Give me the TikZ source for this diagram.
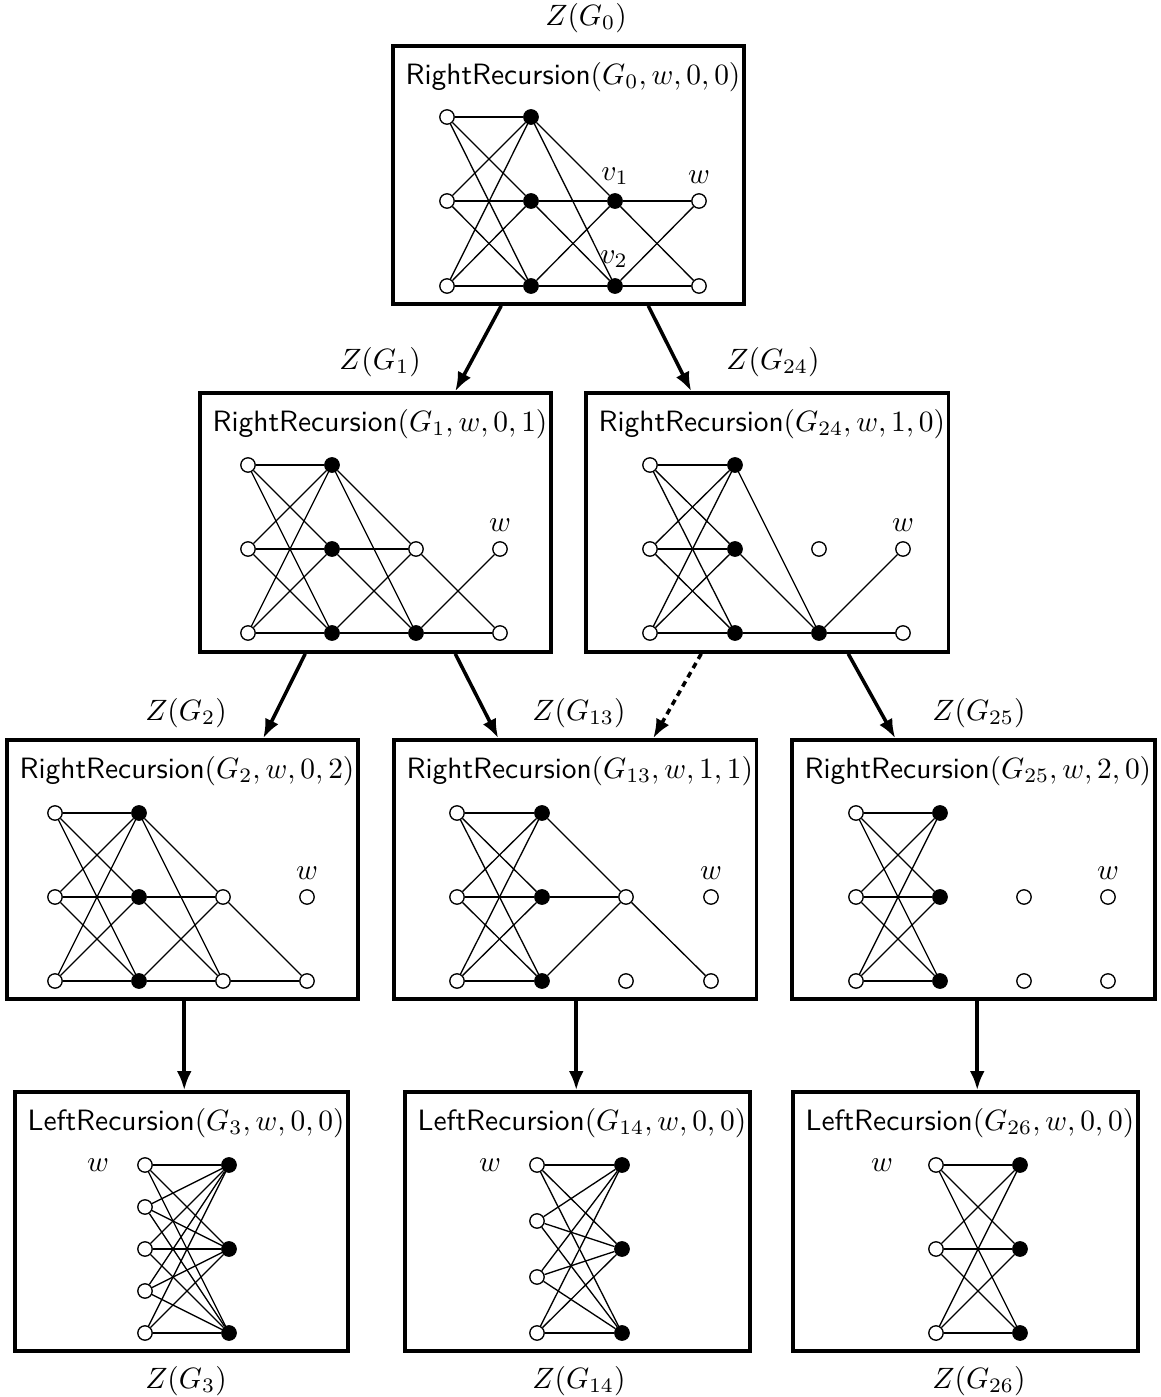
\documentclass[tikz,border=0pt]{standalone}
\usetikzlibrary{arrows.meta,calc,fit}
\begin{document}
\begin{tikzpicture}[x=0.34pt,y=-0.34pt,
  box/.style={draw, line width=1.2pt, inner sep=0pt},
  wv/.style={circle, draw, fill=white, line width=0.45pt, inner sep=0pt, minimum size=4.9pt},
  bv/.style={circle, draw, fill=black, line width=0.45pt, inner sep=0pt, minimum size=4.9pt},
  edge/.style={line width=0.45pt},
  arr/.style={line width=1.2pt, -{Latex[length=6.5pt,width=5pt]}},
  darr/.style={arr, dash pattern=on 2pt off 1.6pt},
  ttl/.style={anchor=base west, inner sep=0pt},
  lab/.style={inner sep=0pt}]
\useasboundingbox (0,0) rectangle (1161,1397);

% ---------- titles ----------
\node[ttl] (T0)  at (405,84)   {\textsf{RightRecursion}$(G_0,w,0,0)$};
\node[ttl] (T1)  at (212,431)  {\textsf{RightRecursion}$(G_1,w,0,1)$};
\node[ttl] (T24) at (598,431)  {\textsf{RightRecursion}$(G_{24},w,1,0)$};
\node[ttl] (T2)  at (19,778)   {\textsf{RightRecursion}$(G_2,w,0,2)$};
\node[ttl] (T13) at (406,778)  {\textsf{RightRecursion}$(G_{13},w,1,1)$};
\node[ttl] (T25) at (804,778)  {\textsf{RightRecursion}$(G_{25},w,2,0)$};
\node[ttl] (T3)  at (27,1130)  {\textsf{LeftRecursion}$(G_3,w,0,0)$};
\node[ttl] (T14) at (417,1130) {\textsf{LeftRecursion}$(G_{14},w,0,0)$};
\node[ttl] (T26) at (805,1130) {\textsf{LeftRecursion}$(G_{26},w,0,0)$};

% ---------- boxes ----------
\node[box, fit={($(T0.west |- 0,46)+(-12,0)$) ($(T0.east |- 0,304)+(3,0)$)}] (b0) {};
\node[box, fit={($(T1.west |- 0,393)+(-12,0)$) ($(T1.east |- 0,652)+(3,0)$)}] (b1) {};
\node[box, fit={($(T24.west |- 0,393)+(-12,0)$) ($(T24.east |- 0,652)+(3,0)$)}] (b24) {};
\node[box, fit={($(T2.west |- 0,740)+(-12,0)$) ($(T2.east |- 0,999)+(3,0)$)}] (b2) {};
\node[box, fit={($(T13.west |- 0,740)+(-12,0)$) ($(T13.east |- 0,999)+(3,0)$)}] (b13) {};
\node[box, fit={($(T25.west |- 0,740)+(-12,0)$) ($(T25.east |- 0,999)+(3,0)$)}] (b25) {};
\node[box, fit={($(T3.west |- 0,1092)+(-12,0)$) ($(T3.east |- 0,1351)+(3,0)$)}] (b3) {};
\node[box, fit={($(T14.west |- 0,1092)+(-12,0)$) ($(T14.east |- 0,1351)+(3,0)$)}] (b14) {};
\node[box, fit={($(T26.west |- 0,1092)+(-12,0)$) ($(T26.east |- 0,1351)+(3,0)$)}] (b26) {};

% ---------- Z labels ----------
\node[lab] (Z0)  at (586,18)   {$Z(G_0)$};
\node[lab] (Z1)  at (380,362)  {$Z(G_1)$};
\node[lab] (Z24) at (773,362)  {$Z(G_{24})$};
\node[lab] (Z2)  at (186,713)  {$Z(G_2)$};
\node[lab] (Z13) at (579,713)  {$Z(G_{13})$};
\node[lab] (Z25) at (979,713)  {$Z(G_{25})$};
\node[lab] (Z3)  at (186,1381) {$Z(G_3)$};
\node[lab] (Z14) at (579,1381) {$Z(G_{14})$};
\node[lab] (Z26) at (979,1381) {$Z(G_{26})$};

% ---------- G0 ----------
\foreach \r/\y in {1/117,2/201,3/286}{
  \node[wv] (A1\r) at (447,\y) {};
  \node[bv] (A2\r) at (531,\y) {};}
\node[bv] (A32) at (615,201) {};
\node[bv] (A33) at (615,286) {};
\node[wv] (A42) at (699,201) {};
\node[wv] (A43) at (699,286) {};
\foreach \i in {1,2,3}{\foreach \j in {1,2,3}{\draw[edge] (A1\i) -- (A2\j);}}
\foreach \i in {1,2,3}{\foreach \j in {2,3}{\draw[edge] (A2\i) -- (A3\j);}}
\foreach \i in {2,3}{\foreach \j in {2,3}{\draw[edge] (A3\i) -- (A4\j);}}
\node[lab] (Av1) at (615,176) {$v_1$};
\node[lab] (Aw)  at (699,177) {$w$};
\node[lab] (Av2) at (614,259) {$v_2$};

% ---------- G1 ----------
\foreach \r/\y in {1/465,2/549,3/633}{
  \node[wv] (B1\r) at (248,\y) {};
  \node[bv] (B2\r) at (332,\y) {};}
\node[wv] (B32) at (416,549) {};
\node[bv] (B33) at (416,633) {};
\node[wv] (B42) at (500,549) {};
\node[wv] (B43) at (500,633) {};
\foreach \i in {1,2,3}{\foreach \j in {1,2,3}{\draw[edge] (B1\i) -- (B2\j);}}
\foreach \i in {1,2,3}{\foreach \j in {2,3}{\draw[edge] (B2\i) -- (B3\j);}}
\draw[edge] (B32) -- (B43);
\draw[edge] (B33) -- (B42);
\draw[edge] (B33) -- (B43);
\node[lab] (Bw) at (500,525) {$w$};

% ---------- G24 ----------
\foreach \r/\y in {1/465,2/549,3/633}{
  \node[wv] (C1\r) at (650,\y) {};
  \node[bv] (C2\r) at (735,\y) {};}
\node[wv] (C32) at (819,549) {};
\node[bv] (C33) at (819,633) {};
\node[wv] (C42) at (903,549) {};
\node[wv] (C43) at (903,633) {};
\foreach \i in {1,2,3}{\foreach \j in {1,2,3}{\draw[edge] (C1\i) -- (C2\j);}}
\foreach \i in {1,2,3}{\draw[edge] (C2\i) -- (C33);}
\draw[edge] (C33) -- (C42);
\draw[edge] (C33) -- (C43);
\node[lab] (Cw) at (903,525) {$w$};

% ---------- G2 ----------
\foreach \r/\y in {1/813,2/897,3/981}{
  \node[wv] (D1\r) at (55,\y) {};
  \node[bv] (D2\r) at (139,\y) {};}
\node[wv] (D32) at (223,897) {};
\node[wv] (D33) at (223,981) {};
\node[wv] (D42) at (307,897) {};
\node[wv] (D43) at (307,981) {};
\foreach \i in {1,2,3}{\foreach \j in {1,2,3}{\draw[edge] (D1\i) -- (D2\j);}}
\foreach \i in {1,2,3}{\foreach \j in {2,3}{\draw[edge] (D2\i) -- (D3\j);}}
\draw[edge] (D32) -- (D43);
\draw[edge] (D33) -- (D43);
\node[lab] (Dw) at (307,873) {$w$};

% ---------- G13 ----------
\foreach \r/\y in {1/813,2/897,3/981}{
  \node[wv] (E1\r) at (457,\y) {};
  \node[bv] (E2\r) at (542,\y) {};}
\node[wv] (E32) at (626,897) {};
\node[wv] (E33) at (626,981) {};
\node[wv] (E42) at (711,897) {};
\node[wv] (E43) at (711,981) {};
\foreach \i in {1,2,3}{\foreach \j in {1,2,3}{\draw[edge] (E1\i) -- (E2\j);}}
\foreach \i in {1,2,3}{\draw[edge] (E2\i) -- (E32);}
\draw[edge] (E32) -- (E43);
\node[lab] (Ew) at (711,873) {$w$};

% ---------- G25 ----------
\foreach \r/\y in {1/813,2/897,3/981}{
  \node[wv] (F1\r) at (856,\y) {};
  \node[bv] (F2\r) at (940,\y) {};}
\node[wv] (F32) at (1024,897) {};
\node[wv] (F33) at (1024,981) {};
\node[wv] (F42) at (1108,897) {};
\node[wv] (F43) at (1108,981) {};
\foreach \i in {1,2,3}{\foreach \j in {1,2,3}{\draw[edge] (F1\i) -- (F2\j);}}
\node[lab] (Fw) at (1108,873) {$w$};

% ---------- G3 ----------
\foreach \r/\y in {1/1165,2/1207,3/1249,4/1291,5/1333}{\node[wv] (G1\r) at (145,\y) {};}
\foreach \r/\y in {1/1165,2/1249,3/1333}{\node[bv] (G2\r) at (229,\y) {};}
\foreach \i in {1,...,5}{\foreach \j in {1,2,3}{\draw[edge] (G1\i) -- (G2\j);}}
\node[lab] (Gw) at (98,1165) {$w$};

% ---------- G14 ----------
\foreach \r/\y in {1/1165,2/1221,3/1277,4/1333}{\node[wv] (H1\r) at (537,\y) {};}
\foreach \r/\y in {1/1165,2/1249,3/1333}{\node[bv] (H2\r) at (622,\y) {};}
\foreach \i in {1,...,4}{\foreach \j in {1,2,3}{\draw[edge] (H1\i) -- (H2\j);}}
\node[lab] (Hw) at (490,1165) {$w$};

% ---------- G26 ----------
\foreach \r/\y in {1/1165,2/1249,3/1333}{
  \node[wv] (I1\r) at (936,\y) {};
  \node[bv] (I2\r) at (1020,\y) {};}
\foreach \i in {1,2,3}{\foreach \j in {1,2,3}{\draw[edge] (I1\i) -- (I2\j);}}
\node[lab] (Iw) at (882,1165) {$w$};

% ---------- arrows ----------
\draw[arr] ($(b0.south west)+(110,0)$) -- ($(b1.north west)+(257,0)$);
\draw[arr] ($(b0.south west)+(257,0)$) -- ($(b24.north west)+(107,0)$);
\draw[arr] ($(b1.south west)+(107,0)$) -- ($(b2.north west)+(258,0)$);
\draw[arr] ($(b1.south west)+(257,0)$) -- ($(b13.north west)+(106,0)$);
\draw[darr] ($(b24.south west)+(117,0)$) -- ($(b13.north west)+(261,0)$);
\draw[arr] ($(b24.south west)+(264,0)$) -- ($(b25.north west)+(105,0)$);
\draw[arr] ($(b2.south west)+(179,0)$) -- ($(b3.north west)+(171,0)$);
\draw[arr] ($(b13.south west)+(184,0)$) -- ($(b14.north west)+(173,0)$);
\draw[arr] ($(b25.south west)+(187,0)$) -- ($(b26.north west)+(186,0)$);
\end{tikzpicture}
\end{document}
